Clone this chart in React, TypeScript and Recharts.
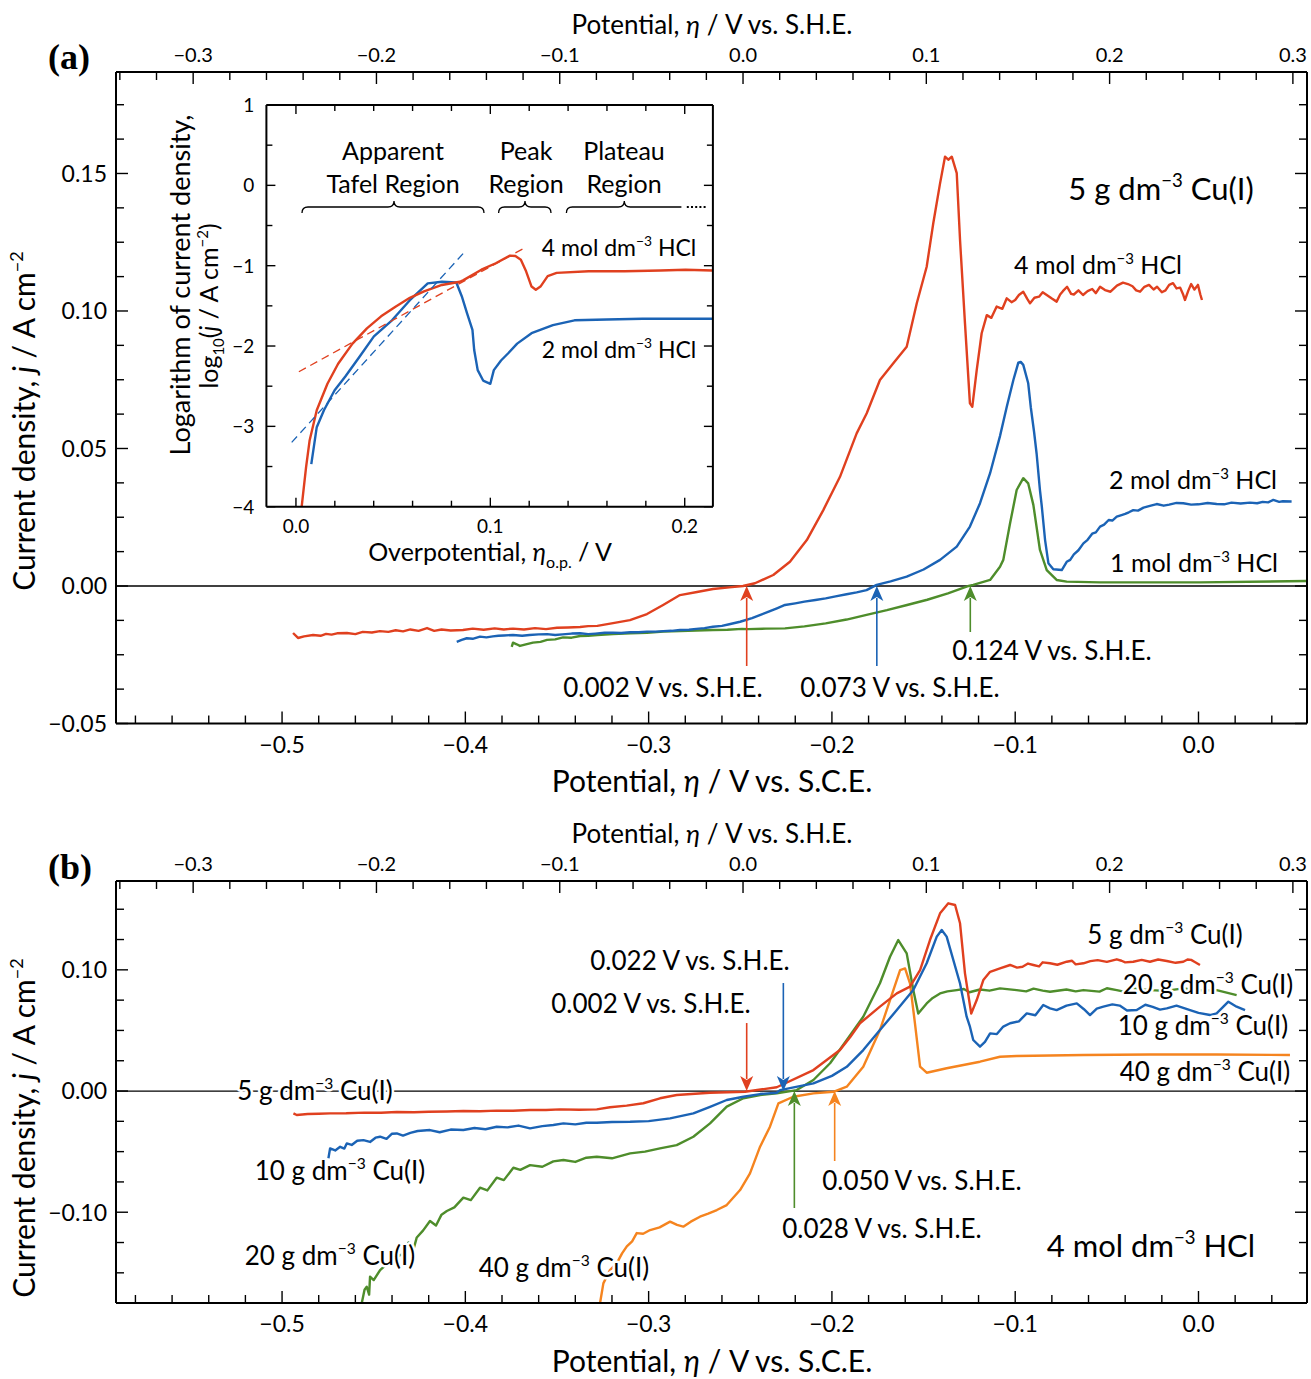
import React from 'react';
import { LineChart, Line, XAxis, YAxis, ReferenceLine, ReferenceDot } from 'recharts';

const FONT = "Lato, 'Noto Sans', 'DejaVu Sans', sans-serif";
const RED = '#e0401f';
const BLUE = '#1b63b5';
const GREEN = '#4e8d2b';
const ORANGE = '#f5841f';

// ---------- Panel (a): 5 g dm-3 Cu(I), various HCl (x: V vs SCE, y: A cm-2)
const a4M: number[][] = [
  [-0.494, -0.0171], [-0.4913, -0.0189], [-0.488, -0.0183], [-0.4831, -0.0178], [-0.479, -0.0181], [-0.476, -0.0174], [-0.473, -0.0177],
  [-0.47, -0.0172], [-0.4646, -0.0171], [-0.46, -0.0175], [-0.456, -0.0167], [-0.451, -0.0169], [-0.4466, -0.0164], [-0.442, -0.0167],
  [-0.438, -0.0161], [-0.434, -0.0165], [-0.43, -0.0158], [-0.4255, -0.0163], [-0.4209, -0.0153], [-0.417, -0.0163], [-0.413, -0.0158],
  [-0.408, -0.0162], [-0.4013, -0.016], [-0.396, -0.0155], [-0.39, -0.0159], [-0.384, -0.0154], [-0.379, -0.0158], [-0.374, -0.0155],
  [-0.368, -0.0158], [-0.362, -0.0153], [-0.356, -0.0157], [-0.35, -0.0152], [-0.344, -0.0151], [-0.3374, -0.0149], [-0.333, -0.0146],
  [-0.328, -0.0145], [-0.3194, -0.0135], [-0.3102, -0.0124], [-0.3009, -0.0102], [-0.2921, -0.0069], [-0.2829, -0.0033],
  [-0.2736, -0.0022], [-0.2649, -0.0011], [-0.256, -0.0005], [-0.2485, 0], [-0.242, 0.001], [-0.232, 0.004], [-0.2229, 0.0088],
  [-0.2137, 0.0167], [-0.2047, 0.0276], [-0.1956, 0.0397], [-0.1865, 0.0555], [-0.181, 0.0628], [-0.1738, 0.0749],
  [-0.1665, 0.081], [-0.1592, 0.087], [-0.1537, 0.1028], [-0.1483, 0.1161], [-0.1447, 0.1319], [-0.141, 0.1464],
  [-0.1383, 0.1561], [-0.1365, 0.155], [-0.1346, 0.1561], [-0.1319, 0.1501], [-0.1301, 0.1258], [-0.1274, 0.0955],
  [-0.1247, 0.0664], [-0.1234, 0.0652], [-0.121, 0.0785], [-0.1183, 0.0919], [-0.1155, 0.0985], [-0.113, 0.0975],
  [-0.1101, 0.1016], [-0.107, 0.1008], [-0.1046, 0.1046], [-0.102, 0.1032], [-0.1, 0.104], [-0.098, 0.1058], [-0.0956, 0.107],
  [-0.0935, 0.1045], [-0.0919, 0.1028], [-0.0895, 0.1048], [-0.087, 0.1052], [-0.085, 0.1068], [-0.0828, 0.1058],
  [-0.08, 0.1045], [-0.0774, 0.1034], [-0.0755, 0.106], [-0.074, 0.1072], [-0.0717, 0.1088], [-0.0695, 0.1062],
  [-0.068, 0.106], [-0.0655, 0.1075], [-0.063, 0.1058], [-0.0605, 0.1072], [-0.058, 0.108], [-0.056, 0.1065],
  [-0.0537, 0.1088], [-0.051, 0.1076], [-0.048, 0.107], [-0.0445, 0.1092], [-0.0412, 0.1103], [-0.0385, 0.1098],
  [-0.036, 0.109], [-0.034, 0.1075], [-0.0319, 0.107], [-0.0295, 0.1088], [-0.027, 0.1095], [-0.0245, 0.1078],
  [-0.0226, 0.1088], [-0.02, 0.1068], [-0.018, 0.1075], [-0.016, 0.1095], [-0.0139, 0.1101], [-0.012, 0.1082],
  [-0.01, 0.1085], [-0.0085, 0.1062], [-0.0074, 0.104], [-0.0055, 0.1075], [-0.004, 0.1098], [-0.0022, 0.1078],
  [-0.0003, 0.1095], [0.001, 0.106], [0.0019, 0.104],
];
const a2M: number[][] = [
  [-0.4047, -0.0203], [-0.402, -0.0196], [-0.3992, -0.019], [-0.396, -0.0192], [-0.392, -0.0184], [-0.3885, -0.0187],
  [-0.385, -0.0183], [-0.382, -0.0181], [-0.379, -0.018], [-0.374, -0.0178], [-0.369, -0.0181], [-0.365, -0.0178],
  [-0.36, -0.0176], [-0.3554, -0.0175], [-0.351, -0.0178], [-0.347, -0.0176], [-0.342, -0.0173], [-0.3374, -0.0172],
  [-0.333, -0.0175], [-0.329, -0.0173], [-0.324, -0.017], [-0.3194, -0.017], [-0.315, -0.0171], [-0.31, -0.0168],
  [-0.3055, -0.0168], [-0.3009, -0.0166], [-0.296, -0.0166], [-0.292, -0.0164], [-0.2875, -0.0163], [-0.2829, -0.016],
  [-0.278, -0.0159], [-0.274, -0.0156], [-0.2695, -0.0153], [-0.2649, -0.0148], [-0.26, -0.0145], [-0.256, -0.0139],
  [-0.2501, -0.013], [-0.2436, -0.0117], [-0.239, -0.0105], [-0.2345, -0.0093], [-0.23, -0.0081], [-0.2256, -0.0069],
  [-0.22, -0.0063], [-0.215, -0.0057], [-0.209, -0.0051], [-0.2034, -0.0045], [-0.198, -0.0038], [-0.192, -0.003],
  [-0.1865, -0.0023], [-0.1811, -0.0015], [-0.1756, 0.0004], [-0.168, 0.0017], [-0.1592, 0.0034], [-0.15, 0.006],
  [-0.141, 0.0095], [-0.1319, 0.0143], [-0.1247, 0.0216], [-0.1192, 0.0301], [-0.1137, 0.041], [-0.1083, 0.0545],
  [-0.1046, 0.0652], [-0.101, 0.0749], [-0.0983, 0.0812], [-0.097, 0.0815], [-0.0956, 0.0804], [-0.0929, 0.0737],
  [-0.0915, 0.065], [-0.0897, 0.056], [-0.0883, 0.048], [-0.0865, 0.0349], [-0.0855, 0.029], [-0.0837, 0.0167],
  [-0.0819, 0.0083], [-0.0792, 0.0061], [-0.0746, 0.0058], [-0.0719, 0.0088], [-0.07, 0.0095], [-0.068, 0.0115],
  [-0.0655, 0.013], [-0.0628, 0.0155], [-0.0605, 0.0168], [-0.058, 0.019], [-0.056, 0.0195], [-0.0537, 0.0216],
  [-0.0515, 0.0223], [-0.049, 0.024], [-0.047, 0.0238], [-0.0446, 0.0252], [-0.042, 0.0258], [-0.04, 0.0262],
  [-0.038, 0.0268], [-0.0356, 0.0276], [-0.033, 0.0274], [-0.03, 0.0285], [-0.026, 0.0292], [-0.0228, 0.0298],
  [-0.019, 0.0292], [-0.016, 0.0296], [-0.012, 0.0302], [-0.0083, 0.0301], [-0.004, 0.0296], [0.0, 0.0297],
  [0.005, 0.0302], [0.0099, 0.0298], [0.014, 0.0297], [0.018, 0.0303], [0.023, 0.03], [0.0281, 0.0303],
  [0.032, 0.0301], [0.035, 0.0306], [0.038, 0.0304], [0.0408, 0.0313], [0.044, 0.0306], [0.046, 0.0308], [0.0508, 0.0307],
];
const a1M: number[][] = [
  [-0.3747, -0.0221], [-0.374, -0.0206], [-0.372, -0.0212], [-0.3702, -0.0218], [-0.367, -0.0212], [-0.3631, -0.0206],
  [-0.359, -0.0203], [-0.3554, -0.0196], [-0.351, -0.0194], [-0.3467, -0.0187], [-0.342, -0.0188], [-0.3374, -0.0182],
  [-0.333, -0.0181], [-0.328, -0.0178], [-0.3194, -0.0175], [-0.31, -0.0172], [-0.3009, -0.017], [-0.292, -0.0166],
  [-0.2829, -0.0164], [-0.274, -0.0162], [-0.2649, -0.016], [-0.257, -0.0159], [-0.249, -0.0156], [-0.2458, -0.0157],
  [-0.236, -0.0155], [-0.2256, -0.0154], [-0.215, -0.0147], [-0.2034, -0.0136], [-0.192, -0.0122], [-0.1811, -0.0105],
  [-0.17, -0.0088], [-0.159, -0.0069], [-0.148, -0.005], [-0.1367, -0.0027], [-0.1254, 0], [-0.1229, 0.0004],
  [-0.1137, 0.0022], [-0.1083, 0.007], [-0.1065, 0.0095], [-0.1028, 0.0228], [-0.0992, 0.0349], [-0.0956, 0.0392],
  [-0.0929, 0.0373], [-0.0901, 0.0295], [-0.0865, 0.0131], [-0.0828, 0.0058], [-0.0774, 0.0022], [-0.0719, 0.0016],
  [-0.0537, 0.0013], [0.0008, 0.0013], [0.0592, 0.0018],
];

// ---------- Inset (x: overpotential V, y: log10 j)
const in4M: number[][] = [
  [0.0029, -4.01], [0.0052, -3.51], [0.007, -3.18], [0.0107, -2.8], [0.0162, -2.47], [0.0217, -2.22], [0.0291, -1.97],
  [0.0365, -1.78], [0.0438, -1.63], [0.0512, -1.51], [0.0586, -1.4], [0.0659, -1.32], [0.0751, -1.24], [0.0843, -1.2],
  [0.0862, -1.18], [0.0954, -1.05], [0.1028, -0.97], [0.1101, -0.875], [0.1129, -0.88], [0.1157, -0.925], [0.1184, -1.07],
  [0.1212, -1.26], [0.1234, -1.3], [0.1258, -1.26], [0.1295, -1.13], [0.1341, -1.09], [0.1506, -1.07], [0.1691, -1.07],
  [0.1875, -1.06], [0.2004, -1.05], [0.2142, -1.06],
];
const in2M: number[][] = [
  [0.0079, -3.47], [0.0107, -3.01], [0.0144, -2.8], [0.0199, -2.55], [0.0254, -2.38], [0.0328, -2.13], [0.0401, -1.88],
  [0.0494, -1.68], [0.0586, -1.43], [0.0678, -1.22], [0.0751, -1.2], [0.0825, -1.21], [0.0853, -1.38], [0.088, -1.59],
  [0.0908, -1.8], [0.0917, -2.05], [0.0935, -2.3], [0.0963, -2.43], [0.1, -2.47], [0.1018, -2.3], [0.1055, -2.18],
  [0.1092, -2.09], [0.1138, -1.97], [0.1212, -1.84], [0.1322, -1.74], [0.1433, -1.68], [0.1599, -1.67], [0.1783, -1.66],
  [0.1967, -1.66], [0.2142, -1.66],
];
const tafel4M: number[][] = [[0.0015, -2.32], [0.1175, -0.78]];
const tafel2M: number[][] = [[-0.0022, -3.2], [0.0871, -0.82]];

// ---------- Panel (b): 4 mol dm-3 HCl, various Cu(I)
const b5g: number[][] = [
  [-0.4938, -0.0184], [-0.492, -0.0198], [-0.486, -0.019], [-0.48, -0.0188], [-0.4738, -0.0184], [-0.465, -0.0183],
  [-0.455, -0.0178], [-0.446, -0.0179], [-0.4374, -0.0173], [-0.428, -0.0175], [-0.42, -0.0171], [-0.41, -0.0169],
  [-0.4011, -0.0165], [-0.392, -0.0167], [-0.383, -0.0162], [-0.374, -0.0163], [-0.3647, -0.0157], [-0.356, -0.0157],
  [-0.3483, -0.0151], [-0.338, -0.0154], [-0.3283, -0.0151], [-0.3211, -0.0134], [-0.312, -0.012], [-0.3029, -0.0101],
  [-0.2938, -0.006], [-0.2847, -0.0033], [-0.2665, -0.0014], [-0.2474, -0.0006], [-0.2301, 0.0031], [-0.2101, 0.0173],
  [-0.1956, 0.0338], [-0.19, 0.0445], [-0.1847, 0.0559], [-0.1738, 0.0696], [-0.1646, 0.0806], [-0.1574, 0.0861],
  [-0.1519, 0.0998], [-0.1465, 0.1246], [-0.141, 0.1466], [-0.1365, 0.1549], [-0.1328, 0.1535], [-0.1301, 0.1384],
  [-0.1274, 0.0971], [-0.124, 0.064], [-0.121, 0.0751], [-0.1174, 0.0916], [-0.1137, 0.0984], [-0.1083, 0.1012],
  [-0.1028, 0.104], [-0.099, 0.1018], [-0.096, 0.1025], [-0.093, 0.1052], [-0.0901, 0.104], [-0.087, 0.1028],
  [-0.085, 0.1062], [-0.081, 0.1054], [-0.077, 0.1042], [-0.0719, 0.1067], [-0.069, 0.1075], [-0.067, 0.1045],
  [-0.0628, 0.1054], [-0.059, 0.1072], [-0.055, 0.108], [-0.05, 0.1066], [-0.0446, 0.1087], [-0.042, 0.1075],
  [-0.04, 0.1062], [-0.0356, 0.1067], [-0.031, 0.1082], [-0.0265, 0.1067], [-0.022, 0.1085], [-0.0173, 0.1073],
  [-0.0125, 0.1058], [-0.0083, 0.1067], [-0.006, 0.1085], [-0.004, 0.1082], [-0.002, 0.1065], [0.0008, 0.104],
];
const b10g: number[][] = [
  [-0.4747, -0.0555], [-0.4738, -0.0473], [-0.471, -0.049], [-0.4683, -0.046], [-0.466, -0.0475], [-0.4647, -0.0432],
  [-0.462, -0.0445], [-0.459, -0.041], [-0.4556, -0.0405], [-0.452, -0.042], [-0.449, -0.0385], [-0.4465, -0.0377],
  [-0.443, -0.0395], [-0.44, -0.0352], [-0.4374, -0.035], [-0.434, -0.0368], [-0.43, -0.0345], [-0.426, -0.033],
  [-0.4193, -0.0322], [-0.414, -0.034], [-0.408, -0.0318], [-0.4011, -0.0322], [-0.395, -0.0305], [-0.389, -0.0315],
  [-0.3829, -0.0295], [-0.377, -0.03], [-0.371, -0.0285], [-0.3647, -0.0308], [-0.358, -0.029], [-0.352, -0.028],
  [-0.3465, -0.0267], [-0.34, -0.0275], [-0.334, -0.0262], [-0.3283, -0.0262], [-0.32, -0.0255], [-0.3101, -0.0254],
  [-0.3, -0.0248], [-0.2883, -0.0226], [-0.2756, -0.0185], [-0.2665, -0.013], [-0.2574, -0.0074], [-0.2483, -0.0047],
  [-0.2392, -0.0025], [-0.2301, -0.0014], [-0.2283, 0.0008], [-0.2101, 0.0063], [-0.2, 0.0125], [-0.1919, 0.02],
  [-0.1829, 0.0338], [-0.1738, 0.0503], [-0.1646, 0.0668], [-0.1556, 0.0833], [-0.1483, 0.1054], [-0.1428, 0.1274],
  [-0.1401, 0.1329], [-0.1374, 0.1274], [-0.1301, 0.0887], [-0.1265, 0.0613], [-0.1247, 0.0531], [-0.1229, 0.0421],
  [-0.1192, 0.0366], [-0.1165, 0.0405], [-0.1137, 0.0476], [-0.11, 0.047], [-0.1065, 0.0532], [-0.1028, 0.0559],
  [-0.098, 0.0575], [-0.0937, 0.0641], [-0.089, 0.0625], [-0.0847, 0.071], [-0.081, 0.0682], [-0.0774, 0.0668],
  [-0.072, 0.0705], [-0.0664, 0.0723], [-0.0625, 0.0675], [-0.0592, 0.0627], [-0.0555, 0.068], [-0.0519, 0.0696],
  [-0.047, 0.0715], [-0.043, 0.0705], [-0.039, 0.0665], [-0.0337, 0.0668], [-0.029, 0.0712], [-0.025, 0.0695],
  [-0.021, 0.0672], [-0.0173, 0.0682], [-0.012, 0.0705], [-0.0046, 0.0668], [0.0, 0.0645], [0.0063, 0.0627],
  [0.0099, 0.0641], [0.0163, 0.0737], [0.0208, 0.0696], [0.0254, 0.0668],
];
const b20g: number[][] = [
  [-0.4565, -0.1749], [-0.455, -0.164], [-0.4538, -0.1615], [-0.4525, -0.168], [-0.452, -0.1532], [-0.45, -0.156],
  [-0.4465, -0.1477], [-0.443, -0.143], [-0.44, -0.138], [-0.4338, -0.1343], [-0.431, -0.125], [-0.428, -0.129],
  [-0.4265, -0.1208], [-0.423, -0.115], [-0.4193, -0.1073], [-0.416, -0.111], [-0.413, -0.102], [-0.4101, -0.099],
  [-0.406, -0.096], [-0.4011, -0.088], [-0.397, -0.09], [-0.392, -0.0798], [-0.388, -0.082], [-0.3829, -0.0715],
  [-0.379, -0.0735], [-0.3738, -0.0633], [-0.37, -0.065], [-0.3647, -0.0611], [-0.358, -0.0625], [-0.352, -0.058],
  [-0.3465, -0.0569], [-0.34, -0.0585], [-0.334, -0.055], [-0.3283, -0.0542], [-0.32, -0.0555], [-0.3101, -0.0514],
  [-0.302, -0.05], [-0.2938, -0.0473], [-0.2847, -0.0446], [-0.2756, -0.0377], [-0.2665, -0.0267], [-0.2574, -0.0129],
  [-0.2483, -0.006], [-0.2392, -0.0033], [-0.2301, -0.0019], [-0.2192, 0.0008], [-0.2101, 0.0091], [-0.201, 0.0229],
  [-0.1919, 0.0421], [-0.1829, 0.0613], [-0.1738, 0.0889], [-0.1683, 0.1108], [-0.1638, 0.1246], [-0.1592, 0.1136],
  [-0.1556, 0.0833], [-0.1529, 0.064], [-0.1483, 0.0723], [-0.145, 0.0768], [-0.141, 0.0805], [-0.137, 0.0822],
  [-0.1319, 0.0833], [-0.128, 0.0842], [-0.125, 0.0815], [-0.1192, 0.0838], [-0.114, 0.0828], [-0.1083, 0.0847],
  [-0.0992, 0.0833], [-0.094, 0.0822], [-0.09, 0.0845], [-0.085, 0.0828], [-0.081, 0.0819], [-0.072, 0.0838],
  [-0.067, 0.0822], [-0.0628, 0.0833], [-0.054, 0.082], [-0.05, 0.0848], [-0.0446, 0.0833], [-0.04, 0.0818],
  [-0.035, 0.0845], [-0.0265, 0.0833], [-0.018, 0.0826], [-0.0083, 0.0847], [0.0, 0.0832], [0.0099, 0.0833],
  [0.0208, 0.0792],
];
const b40g: number[][] = [
  [-0.3265, -0.1749], [-0.3247, -0.1587], [-0.3211, -0.1477], [-0.3174, -0.1422], [-0.3145, -0.134], [-0.3119, -0.1282],
  [-0.309, -0.124], [-0.3065, -0.1172], [-0.303, -0.1178], [-0.2992, -0.1147], [-0.294, -0.1125], [-0.2883, -0.1078],
  [-0.2845, -0.1105], [-0.2811, -0.1119], [-0.277, -0.1078], [-0.272, -0.1037], [-0.2675, -0.1012], [-0.2628, -0.0982],
  [-0.2574, -0.0941], [-0.2501, -0.0817], [-0.2447, -0.0679], [-0.2392, -0.0459], [-0.2338, -0.0294], [-0.2292, -0.0102],
  [-0.2211, -0.0047], [-0.2101, -0.0019], [-0.1992, -0.0006], [-0.1919, 0.0036], [-0.1829, 0.0201], [-0.1738, 0.0503],
  [-0.1683, 0.0751], [-0.1628, 0.0998], [-0.1601, 0.1012], [-0.1574, 0.0889], [-0.1547, 0.0559], [-0.1519, 0.0201],
  [-0.1483, 0.0151], [-0.1374, 0.0188], [-0.1192, 0.0242], [-0.1083, 0.0283], [-0.0992, 0.0289], [-0.0628, 0.0297],
  [-0.0265, 0.0302], [0.0099, 0.0302], [0.0499, 0.0297],
];

// equilibrium potentials (V vs SCE) marked with arrows
const arrowsA = [
  { x: -0.2465, color: RED, len: 80 },
  { x: -0.1755, color: BLUE, len: 80 },
  { x: -0.1245, color: GREEN, len: 46 },
];
const arrowsB = [
  { x: -0.2465, color: RED, len: 68, dir: 'down' },
  { x: -0.2265, color: BLUE, len: 108, dir: 'down' },
  { x: -0.2205, color: GREEN, len: 117, dir: 'up' },
  { x: -0.1985, color: ORANGE, len: 70, dir: 'up' },
];

// axis ticks
const range = (a: number, b: number, s: number) => {
  const n = Math.round((b - a) / s);
  return Array.from({ length: n + 1 }, (_, i) => +(a + i * s).toFixed(5));
};
const sceMajor = [-0.5, -0.4, -0.3, -0.2, -0.1, 0.0];
const sceTicks = range(-0.58, 0.04, 0.02);
const sheMajor = [-0.3, -0.2, -0.1, 0.0, 0.1, 0.2, 0.3];
const sheTicks = range(-0.34, 0.3, 0.02);
const jMajorA = [-0.05, 0, 0.05, 0.1, 0.15];
const jTicksA = range(-0.05, 0.175, 0.0125);
const jMajorB = [-0.1, 0, 0.1];
const jTicksB = range(-0.15, 0.15, 0.025);
const inXMajor = [0, 0.1, 0.2];
const inXTicks = range(0, 0.2, 0.02);
const inYMajor = [-4, -3, -2, -1, 0, 1];
const inYTicks = range(-4, 1, 0.5);

const SCE_DOMAIN: [number, number] = [-0.5906, 0.0592];
const SHE_DOMAIN: [number, number] = [-0.3421, 0.3077];
const IN_X_DOMAIN: [number, number] = [-0.0152, 0.2145];

const toPts = (arr: number[][]) => arr.map(([x, y]) => ({ x, y }));
const axisAnchor = (vals: number[]) => vals.map((x) => ({ x }));
const minus = (v: number, d: number) => (v < -1e-9 ? '\u2212' : '') + Math.abs(v).toFixed(d);

type Side = 'bottom' | 'top' | 'left' | 'right';
function tickR(side: Side, majors: number[], fs: number, gap: number, fmt: ((v: number) => string) | null, maj = 12, min = 8) {
  return (props: any) => {
    const { x, y, payload } = props;
    const v = payload.value as number;
    const isMajor = majors.some((m) => Math.abs(m - v) < 1e-7);
    const len = isMajor ? maj : min;
    const label = isMajor && fmt ? fmt(v) : null;
    let l = [x, y, x, y];
    let t: any = null;
    const tp = { fontSize: fs, fontFamily: FONT, fill: '#000' };
    if (side === 'bottom') {
      l = [x, y, x, y - len];
      if (label) t = <text {...tp} x={x} y={y + gap} textAnchor="middle">{label}</text>;
    } else if (side === 'top') {
      l = [x, y, x, y + len];
      if (label) t = <text {...tp} x={x} y={y - gap} textAnchor="middle">{label}</text>;
    } else if (side === 'left') {
      l = [x, y, x + len, y];
      if (label) t = <text {...tp} x={x - gap} y={y + fs * 0.36} textAnchor="end">{label}</text>;
    } else {
      l = [x, y, x - len, y];
    }
    return (
      <g>
        <line x1={l[0]} y1={l[1]} x2={l[2]} y2={l[3]} stroke="#000" strokeWidth={1.4} />
        {t}
      </g>
    );
  };
}

const arrowShape = (color: string, len: number, dir: string) => (p: any) => {
  const { cx, cy } = p;
  const h = 15;
  const w = 6.5;
  const s = dir === 'up' ? 1 : -1;
  return (
    <g>
      <line x1={cx} y1={cy + s * (h - 3)} x2={cx} y2={cy + s * len} stroke={color} strokeWidth={1.6} />
      <path d={`M${cx},${cy} L${cx - w},${cy + s * h} L${cx},${cy + s * (h - 4)} L${cx + w},${cy + s * h} Z`} fill={color} />
    </g>
  );
};

const AX = { stroke: '#000', strokeWidth: 2 };
const lineProps = { type: 'linear' as const, dot: false, strokeWidth: 2.4, isAnimationActive: false, strokeLinejoin: 'round' as const };

function dm(pre: string, post: string, fs: number) {
  return (
    <>
      {pre} dm
      <tspan dy={-fs * 0.42} fontSize={fs * 0.6}>{'\u22123'}</tspan>
      <tspan dy={fs * 0.42}>{' ' + post}</tspan>
    </>
  );
}

const T = ({ x, y, fs, anchor = 'middle', halo = false, rot = false, children }: any) => (
  <text
    x={rot ? 0 : x}
    y={rot ? 0 : y}
    transform={rot ? `translate(${x},${y}) rotate(-90)` : undefined}
    fontSize={fs}
    fontFamily={FONT}
    textAnchor={anchor}
    fill="#000"
    stroke={halo ? '#fff' : 'none'}
    strokeWidth={halo ? 5 : 0}
    strokeLinejoin="round"
    style={{ paintOrder: 'stroke' }}
  >
    {children}
  </text>
);

const brace = (x1: number, mid: number, x2: number, y: number, open = false) =>
  `M${x1},${y + 6} Q${x1},${y} ${x1 + 6},${y} L${mid - 6},${y} Q${mid},${y} ${mid},${y - 6} Q${mid},${y} ${mid + 6},${y} L${x2 - (open ? 0 : 6)},${y}` +
  (open ? '' : ` Q${x2},${y} ${x2},${y + 6}`);

function MainAxes(jDomain: [number, number], jTicks: number[], jMajor: number[]) {
  return [
    <XAxis key="sce" xAxisId="sce" dataKey="x" type="number" orientation="bottom" domain={SCE_DOMAIN} allowDataOverflow ticks={sceTicks} interval={0}
      tick={tickR('bottom', sceMajor, 23, 29, (v) => minus(v, 1))} tickLine={false} tickSize={0} tickMargin={0} height={1} axisLine={AX} />,
    <XAxis key="she" xAxisId="she" dataKey="x" type="number" orientation="top" domain={SHE_DOMAIN} allowDataOverflow ticks={sheTicks} interval={0}
      tick={tickR('top', sheMajor, 20, 10, (v) => minus(v, 1))} tickLine={false} tickSize={0} tickMargin={0} height={1} axisLine={AX} />,
    <YAxis key="j" yAxisId="j" type="number" orientation="left" domain={jDomain} allowDataOverflow ticks={jTicks} interval={0}
      tick={tickR('left', jMajor, 23, 9, (v) => minus(v, 2))} tickLine={false} tickSize={0} tickMargin={0} width={1} axisLine={AX} />,
    <YAxis key="r" yAxisId="r" type="number" orientation="right" domain={jDomain} allowDataOverflow ticks={jTicks} interval={0}
      tick={tickR('right', jMajor, 23, 9, null)} tickLine={false} tickSize={0} tickMargin={0} width={1} axisLine={AX} />,
    // invisible anchor so that the S.H.E. axis has its own item
    <Line key="sheAnchor" xAxisId="she" yAxisId="j" data={axisAnchor(sheMajor)} dataKey="y" stroke="none" dot={false} isAnimationActive={false} />,
    <ReferenceLine key="zero" xAxisId="sce" yAxisId="j" y={0} stroke="#000" strokeWidth={1.3} />,
  ];
}

function PanelA() {
  return (
    <LineChart width={1311} height={800} margin={{ top: 71, right: 3, bottom: 75.5, left: 115 }}>
      {MainAxes([-0.05, 0.1869], jTicksA, jMajorA)}
      <Line {...lineProps} xAxisId="sce" yAxisId="j" data={toPts(a1M)} dataKey="y" stroke={GREEN} />
      <Line {...lineProps} xAxisId="sce" yAxisId="j" data={toPts(a2M)} dataKey="y" stroke={BLUE} />
      <Line {...lineProps} xAxisId="sce" yAxisId="j" data={toPts(a4M)} dataKey="y" stroke={RED} />
      {arrowsA.map((a, i) => (
        <ReferenceDot key={i} xAxisId="sce" yAxisId="j" x={a.x} y={0} r={1} shape={arrowShape(a.color, a.len, 'up')} />
      ))}
    </LineChart>
  );
}

function Inset() {
  return (
    <LineChart width={575} height={490} margin={{ top: 16, right: 11.1, bottom: 70.3, left: 115.4 }}>
      <XAxis xAxisId="x" dataKey="x" type="number" orientation="bottom" domain={IN_X_DOMAIN} allowDataOverflow ticks={inXTicks} interval={0}
        tick={tickR('bottom', inXMajor, 19, 26, (v) => minus(v, 1), 9, 6)} tickLine={false} tickSize={0} tickMargin={0} height={1} axisLine={AX} />
      <XAxis xAxisId="t" dataKey="x" type="number" orientation="top" domain={IN_X_DOMAIN} allowDataOverflow ticks={inXTicks} interval={0}
        tick={tickR('top', inXMajor, 19, 10, null, 9, 6)} tickLine={false} tickSize={0} tickMargin={0} height={1} axisLine={AX} />
      <YAxis yAxisId="y" type="number" orientation="left" domain={[-4, 1]} allowDataOverflow ticks={inYTicks} interval={0}
        tick={tickR('left', inYMajor, 19, 12, (v) => minus(v, 0), 9, 6)} tickLine={false} tickSize={0} tickMargin={0} width={1} axisLine={AX} />
      <YAxis yAxisId="r" type="number" orientation="right" domain={[-4, 1]} allowDataOverflow ticks={inYTicks} interval={0}
        tick={tickR('right', inYMajor, 19, 12, null, 9, 6)} tickLine={false} tickSize={0} tickMargin={0} width={1} axisLine={AX} />
      <Line xAxisId="t" yAxisId="y" data={axisAnchor(inXMajor)} dataKey="y" stroke="none" dot={false} isAnimationActive={false} />
      <Line {...lineProps} xAxisId="x" yAxisId="y" data={toPts(in2M)} dataKey="y" stroke={BLUE} />
      <Line {...lineProps} xAxisId="x" yAxisId="y" data={toPts(in4M)} dataKey="y" stroke={RED} />
      <Line {...lineProps} strokeWidth={1.3} strokeDasharray="8 5" xAxisId="x" yAxisId="y" data={toPts(tafel4M)} dataKey="y" stroke={RED} />
      <Line {...lineProps} strokeWidth={1.3} strokeDasharray="8 5" xAxisId="x" yAxisId="y" data={toPts(tafel2M)} dataKey="y" stroke={BLUE} />
    </LineChart>
  );
}

function PanelB() {
  return (
    <LineChart width={1311} height={579} margin={{ top: 80, right: 3, bottom: 75, left: 115 }}>
      {MainAxes([-0.1749, 0.1733], jTicksB, jMajorB)}
      <Line {...lineProps} xAxisId="sce" yAxisId="j" data={toPts(b40g)} dataKey="y" stroke={ORANGE} />
      <Line {...lineProps} xAxisId="sce" yAxisId="j" data={toPts(b20g)} dataKey="y" stroke={GREEN} />
      <Line {...lineProps} xAxisId="sce" yAxisId="j" data={toPts(b10g)} dataKey="y" stroke={BLUE} />
      <Line {...lineProps} xAxisId="sce" yAxisId="j" data={toPts(b5g)} dataKey="y" stroke={RED} />
      {arrowsB.map((a, i) => (
        <ReferenceDot key={i} xAxisId="sce" yAxisId="j" x={a.x} y={0} r={1} shape={arrowShape(a.color, a.len, a.dir)} />
      ))}
    </LineChart>
  );
}

function Overlay() {
  const I = (s: string) => <tspan fontStyle="italic">{s}</tspan>;
  return (
    <svg width={1311} height={1379} style={{ position: 'absolute', left: 0, top: 0, pointerEvents: 'none' }}>
      {/* Panel (a) */}
      <text x={48} y={69} fontSize={36} fontWeight="bold" fontFamily="'Liberation Serif', 'DejaVu Serif', serif">(a)</text>
      <T x={712} y={34} fs={26}>Potential, {I('η')} / V vs. S.H.E.</T>
      <T x={712} y={792} fs={30}>Potential, {I('η')} / V vs. S.C.E.</T>
      <T x={35} y={421} fs={30} rot>
        Current density, {I('j')} / A cm<tspan dy={-12} fontSize={18}>{'\u22122'}</tspan>
      </T>
      <T x={1161} y={200} fs={31}>{dm('5 g', 'Cu(I)', 31)}</T>
      <T x={1098} y={274} fs={25}>{dm('4 mol', 'HCl', 25)}</T>
      <T x={1193} y={489} fs={25}>{dm('2 mol', 'HCl', 25)}</T>
      <T x={1194} y={572} fs={25}>{dm('1 mol', 'HCl', 25)}</T>
      <T x={663} y={697} fs={26}>0.002 V vs. S.H.E.</T>
      <T x={900} y={697} fs={26}>0.073 V vs. S.H.E.</T>
      <T x={1052} y={660} fs={26}>0.124 V vs. S.H.E.</T>

      {/* Inset */}
      <T x={393} y={160} fs={25}>Apparent</T>
      <T x={393} y={193} fs={25}>Tafel Region</T>
      <T x={526} y={160} fs={25}>Peak</T>
      <T x={526} y={193} fs={25}>Region</T>
      <T x={624} y={160} fs={25}>Plateau</T>
      <T x={624} y={193} fs={25}>Region</T>
      <g fill="none" stroke="#000" strokeWidth={1.3}>
        <path d={brace(302, 394, 484, 207)} />
        <path d={brace(498.6, 525, 551, 207)} />
        <path d={brace(566.4, 624.3, 681.4, 207, true)} />
        <path d="M686.8,207 L706.4,207" strokeDasharray="2 2.2" strokeWidth={2} />
      </g>
      <T x={619} y={256} fs={23}>{dm('4 mol', 'HCl', 23)}</T>
      <T x={619} y={358} fs={23}>{dm('2 mol', 'HCl', 23)}</T>
      <T x={190} y={285} fs={27} rot>Logarithm of current density,</T>
      <T x={218} y={306} fs={25} rot>
        log<tspan dy={6} fontSize={15}>10</tspan>
        <tspan dy={-6}>(</tspan>{I('j')} / A cm<tspan dy={-10} fontSize={15}>{'\u22122'}</tspan>
        <tspan dy={10}>)</tspan>
      </T>
      <T x={490} y={561} fs={25}>
        Overpotential, {I('η')}<tspan dy={7} fontSize={16}>o.p.</tspan>
        <tspan dy={-7}> / V</tspan>
      </T>

      {/* Panel (b) */}
      <text x={48} y={879} fontSize={36} fontWeight="bold" fontFamily="'Liberation Serif', 'DejaVu Serif', serif">(b)</text>
      <T x={712} y={843} fs={26}>Potential, {I('η')} / V vs. S.H.E.</T>
      <T x={712} y={1372} fs={30}>Potential, {I('η')} / V vs. S.C.E.</T>
      <T x={35} y={1128} fs={30} rot>
        Current density, {I('j')} / A cm<tspan dy={-12} fontSize={18}>{'\u22122'}</tspan>
      </T>
      <T x={1165} y={944} fs={26} halo>{dm('5 g', 'Cu(I)', 26)}</T>
      <T x={1208} y={994} fs={26} halo>{dm('20 g', 'Cu(I)', 26)}</T>
      <T x={1203} y={1035} fs={26} halo>{dm('10 g', 'Cu(I)', 26)}</T>
      <T x={1205} y={1081} fs={26} halo>{dm('40 g', 'Cu(I)', 26)}</T>
      <T x={315} y={1100} fs={26} halo>{dm('5 g', 'Cu(I)', 26)}</T>
      <T x={340} y={1180} fs={26} halo>{dm('10 g', 'Cu(I)', 26)}</T>
      <T x={330} y={1265} fs={26} halo>{dm('20 g', 'Cu(I)', 26)}</T>
      <T x={564} y={1277} fs={26} halo>{dm('40 g', 'Cu(I)', 26)}</T>
      <T x={690} y={970} fs={26} halo>0.022 V vs. S.H.E.</T>
      <T x={651} y={1013} fs={26} halo>0.002 V vs. S.H.E.</T>
      <T x={922} y={1190} fs={26} halo>0.050 V vs. S.H.E.</T>
      <T x={882} y={1238} fs={26} halo>0.028 V vs. S.H.E.</T>
      <T x={1151} y={1257} fs={31}>{dm('4 mol', 'HCl', 31)}</T>
    </svg>
  );
}

export default function App() {
  return (
    <div style={{ position: 'absolute', left: 0, top: 0, width: 1311, height: 1379, background: '#fff', overflow: 'hidden' }}>
      <div style={{ position: 'absolute', left: 0, top: 0 }}>
        <PanelA />
      </div>
      <div style={{ position: 'absolute', left: 150, top: 88 }}>
        <Inset />
      </div>
      <div style={{ position: 'absolute', left: 0, top: 800 }}>
        <PanelB />
      </div>
      <Overlay />
    </div>
  );
}
